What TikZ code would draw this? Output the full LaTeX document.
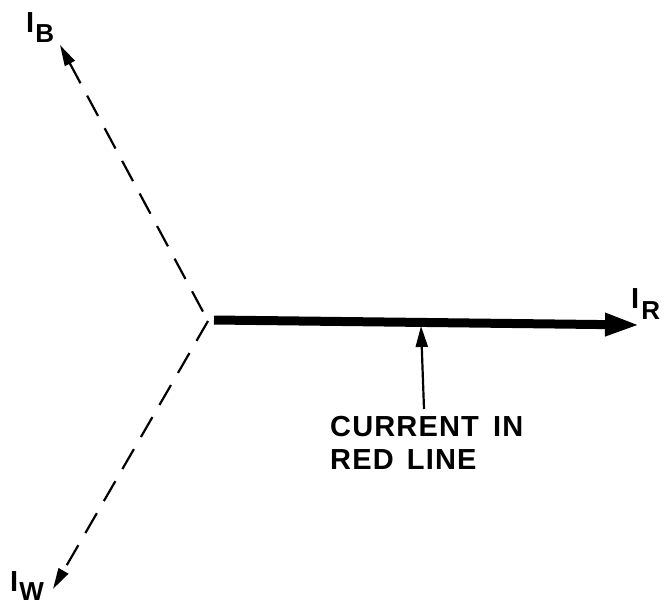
\documentclass[tikz,border=0pt]{standalone}
\usepackage{fontspec}
\setmainfont{Liberation Sans}
\usetikzlibrary{arrows.meta}
\tikzset{
  lbl/.style={inner sep=0pt, anchor=north west, font=\bfseries\fontsize{29}{29}\selectfont},
  dline/.style={line width=2.2pt, dash pattern=on 23pt off 14pt},
  thinhead/.style={-{Triangle[length=21pt,width=11pt]}},
  bighead/.style={-{Triangle[length=35pt,width=21pt]}},
  note/.style={inner sep=0pt, anchor=north west, align=left, font=\bfseries\fontsize{29}{33}\selectfont\addfontfeature{LetterSpace=4}}
}
\newcommand{\sbs}[2]{\raisebox{-#1pt}{\fontsize{26}{26}\selectfont #2}}
\begin{document}
\begin{tikzpicture}[x=1pt,y=-1pt]
\useasboundingbox (0,0) rectangle (665,605);
\coordinate (O) at (208,321);
\coordinate (R0) at (214,320);
\coordinate (Rtip) at (640,325);
\coordinate (Btip) at (60,45);
\coordinate (Wtip) at (53,589);
\coordinate (Ptail) at (424,409);
\coordinate (Ptip) at (421,326);
% labels
\node[lbl] (LB) at (26,12) {I\hspace{1pt}\sbs{10}{B}};
\node[lbl] (LR) at (631,288) {I\hspace{2pt}\sbs{11}{R}};
\node[lbl] (LW) at (10,571) {I\hspace{1pt}\sbs{9}{W}};
\node[note] (txt) at (330,416) {CURRENT\hspace{5pt} IN\\RED\hspace{4pt} LINE};
% vectors
\draw[dline, {Triangle[length=21pt,width=11pt]}-] (Btip) -- (O);
\draw[dline, thinhead] (O) -- (Wtip);
\draw[line width=9pt, line cap=butt, bighead] (R0) -- (Rtip);
\draw[line width=2.2pt, -{Triangle[length=21pt,width=12pt]}] (Ptail) -- (Ptip);
\end{tikzpicture}
\end{document}
